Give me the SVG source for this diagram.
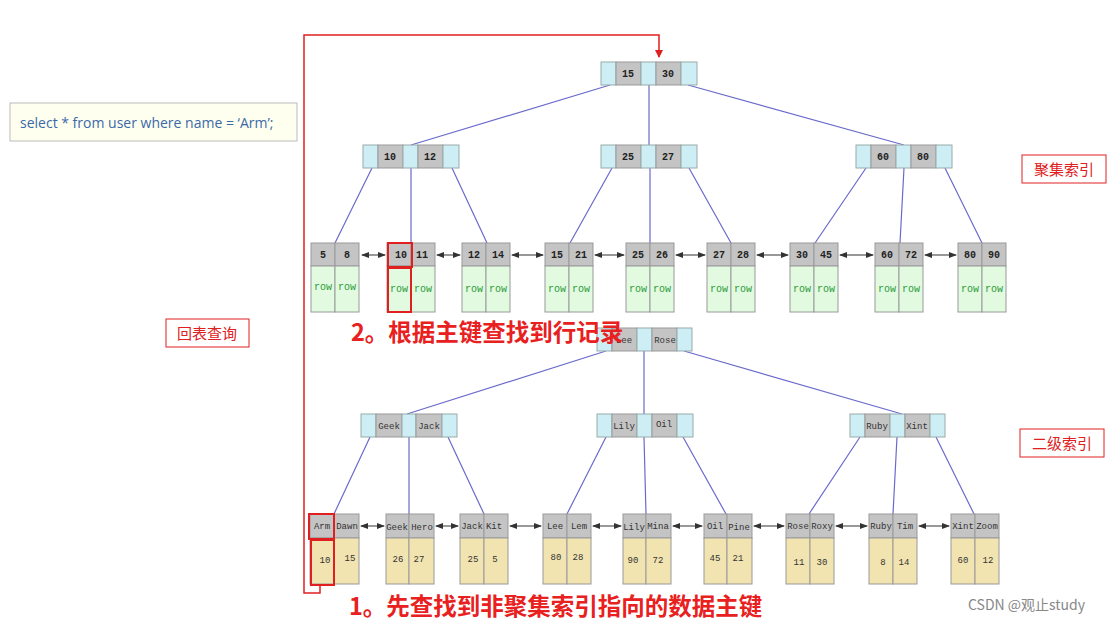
<svg xmlns="http://www.w3.org/2000/svg" width="1120" height="624" viewBox="0 0 1120 624">
<defs>
<marker id="ah" markerWidth="8" markerHeight="8" refX="7" refY="4" orient="auto-start-reverse" markerUnits="userSpaceOnUse"><path d="M0,1 L8,4 L0,7z" fill="#333"/></marker>
<marker id="rh" markerWidth="8" markerHeight="8" refX="7" refY="4" orient="auto" markerUnits="userSpaceOnUse"><path d="M0,0 L8,4 L0,8z" fill="#e02020"/></marker>
</defs>
<style>
.b{fill:#cdeef5;stroke:#9aa;stroke-width:1}
.g{fill:#c4c4c4;stroke:#999;stroke-width:1}
.r{fill:#e2fbe0;stroke:#999;stroke-width:1}
.y{fill:#f2e4b0;stroke:#999;stroke-width:1}
.k{font-family:"Liberation Mono",monospace;font-size:10px;fill:#222;text-anchor:middle;font-weight:bold}
.kr{font-family:"Liberation Mono",monospace;font-size:10px;fill:#2a9a3a;text-anchor:middle}
.kn{font-family:"Liberation Mono",monospace;font-size:9px;fill:#333;text-anchor:middle}
.e{stroke:#6a6acc;stroke-width:1.2;fill:none}
.l line{stroke:#333;stroke-width:1;marker-start:url(#ah);marker-end:url(#ah)}
.hl{fill:none;stroke:#e02020;stroke-width:2}
.lab{font-family:"Noto Sans CJK SC",sans-serif;font-size:15px;fill:#e02020;text-anchor:middle}
.big{font-family:"Noto Sans CJK SC",sans-serif;font-size:23.5px;font-weight:bold;fill:#e82020}
</style>
<rect width="1120" height="624" fill="#fff"/>
<g id="query"><rect x="10" y="103" width="287" height="38" fill="#fffff0" stroke="#bbb"/><text x="20" y="128" font-family="Open Sans,sans-serif" font-size="14" fill="#3a6aa8">select * from user where name = ‘Arm’;</text></g>
<g id="connectors">
<path class="e" d="M610,85 L411,145 M649,85 L649,145 M688,85 L904,145"/>
<path class="e" d="M372,168 L335,243 M411,168 L411,243 M452,168 L487,243 M612,168 L570,243 M650,168 L650,243 M689,168 L731,243 M866,168 L815,243 M904,168 L900,243 M945,168 L982,243"/>
<path class="e" d="M606,351 L407,414 M644,351 L644,414 M684,351 L902,414 M370,437 L334,514 M409,437 L409,514 M448,437 L484,514 M606,437 L567,514 M644,437 L646,514 M683,437 L726,514 M860,437 L809,514 M897,437 L893,514 M936,437 L974,514"/>
<g class="l">
<line x1="362" y1="255" x2="385" y2="255"/><line x1="437" y1="255" x2="460" y2="255"/><line x1="512" y1="255" x2="543" y2="255"/><line x1="595" y1="255" x2="624" y2="255"/><line x1="676" y1="255" x2="705" y2="255"/><line x1="757" y1="255" x2="788" y2="255"/><line x1="840" y1="255" x2="873" y2="255"/><line x1="925" y1="255" x2="956" y2="255"/>
<line x1="361" y1="526" x2="384" y2="526"/><line x1="436" y1="526" x2="458" y2="526"/><line x1="510" y1="526" x2="541" y2="526"/><line x1="593" y1="526" x2="621" y2="526"/><line x1="673" y1="526" x2="702" y2="526"/><line x1="754" y1="526" x2="784" y2="526"/><line x1="836" y1="526" x2="867" y2="526"/><line x1="919" y1="526" x2="949" y2="526"/>
</g>
<path d="M320,585 L320,593 L304,593 L304,35 L659,35 L659,57" stroke="#e02020" stroke-width="1.5" fill="none" marker-end="url(#rh)"/>
</g>
<g id="n-root"><rect class="b" x="601" y="62" width="15" height="23"/><rect class="g" x="616" y="62" width="25" height="23"/><rect class="b" x="641" y="62" width="15" height="23"/><rect class="g" x="656" y="62" width="25" height="23"/><rect class="b" x="681" y="62" width="16" height="23"/><text class="k" x="628" y="77">15</text><text class="k" x="668" y="77">30</text></g>
<g id="n-l"><rect class="b" x="363" y="145" width="15" height="23"/><rect class="g" x="378" y="145" width="25" height="23"/><rect class="b" x="403" y="145" width="15" height="23"/><rect class="g" x="418" y="145" width="25" height="23"/><rect class="b" x="443" y="145" width="16" height="23"/><text class="k" x="390" y="160">10</text><text class="k" x="430" y="160">12</text></g>
<g id="n-m"><rect class="b" x="601" y="145" width="15" height="23"/><rect class="g" x="616" y="145" width="25" height="23"/><rect class="b" x="641" y="145" width="15" height="23"/><rect class="g" x="656" y="145" width="25" height="23"/><rect class="b" x="681" y="145" width="16" height="23"/><text class="k" x="628" y="160">25</text><text class="k" x="668" y="160">27</text></g>
<g id="n-r"><rect class="b" x="856" y="145" width="15" height="23"/><rect class="g" x="871" y="145" width="25" height="23"/><rect class="b" x="896" y="145" width="15" height="23"/><rect class="g" x="911" y="145" width="25" height="23"/><rect class="b" x="936" y="145" width="16" height="23"/><text class="k" x="883" y="160">60</text><text class="k" x="923" y="160">80</text></g>
<g id="top-leaves">
<g id="t1"><rect class="g" x="311" y="243" width="24" height="23"/><rect class="g" x="335" y="243" width="24" height="23"/><rect class="r" x="311" y="266" width="24" height="46"/><rect class="r" x="335" y="266" width="24" height="46"/><text class="k" x="323" y="258">5</text><text class="k" x="347" y="258">8</text><text class="kr" x="323" y="290">row</text><text class="kr" x="347" y="290">row</text></g>
<g id="t2"><rect class="g" x="387" y="243" width="24" height="23"/><rect class="g" x="411" y="243" width="24" height="23"/><rect class="r" x="387" y="266" width="24" height="46"/><rect class="r" x="411" y="266" width="24" height="46"/><text class="k" x="401" y="258">10</text><text class="k" x="422" y="258">11</text><text class="kr" x="399" y="292">row</text><text class="kr" x="423" y="292">row</text></g>
<g id="t3"><rect class="g" x="462" y="243" width="24" height="23"/><rect class="g" x="486" y="243" width="24" height="23"/><rect class="r" x="462" y="266" width="24" height="46"/><rect class="r" x="486" y="266" width="24" height="46"/><text class="k" x="474" y="258">12</text><text class="k" x="498" y="258">14</text><text class="kr" x="474" y="292">row</text><text class="kr" x="498" y="292">row</text></g>
<g id="t4"><rect class="g" x="545" y="243" width="24" height="23"/><rect class="g" x="569" y="243" width="24" height="23"/><rect class="r" x="545" y="266" width="24" height="46"/><rect class="r" x="569" y="266" width="24" height="46"/><text class="k" x="557" y="258">15</text><text class="k" x="581" y="258">21</text><text class="kr" x="557" y="292">row</text><text class="kr" x="581" y="292">row</text></g>
<g id="t5"><rect class="g" x="626" y="243" width="24" height="23"/><rect class="g" x="650" y="243" width="24" height="23"/><rect class="r" x="626" y="266" width="24" height="46"/><rect class="r" x="650" y="266" width="24" height="46"/><text class="k" x="638" y="258">25</text><text class="k" x="662" y="258">26</text><text class="kr" x="638" y="292">row</text><text class="kr" x="662" y="292">row</text></g>
<g id="t6"><rect class="g" x="707" y="243" width="24" height="23"/><rect class="g" x="731" y="243" width="24" height="23"/><rect class="r" x="707" y="266" width="24" height="46"/><rect class="r" x="731" y="266" width="24" height="46"/><text class="k" x="719" y="258">27</text><text class="k" x="743" y="258">28</text><text class="kr" x="719" y="292">row</text><text class="kr" x="743" y="292">row</text></g>
<g id="t7"><rect class="g" x="790" y="243" width="24" height="23"/><rect class="g" x="814" y="243" width="24" height="23"/><rect class="r" x="790" y="266" width="24" height="46"/><rect class="r" x="814" y="266" width="24" height="46"/><text class="k" x="802" y="258">30</text><text class="k" x="826" y="258">45</text><text class="kr" x="802" y="292">row</text><text class="kr" x="826" y="292">row</text></g>
<g id="t8"><rect class="g" x="875" y="243" width="24" height="23"/><rect class="g" x="899" y="243" width="24" height="23"/><rect class="r" x="875" y="266" width="24" height="46"/><rect class="r" x="899" y="266" width="24" height="46"/><text class="k" x="887" y="258">60</text><text class="k" x="911" y="258">72</text><text class="kr" x="887" y="292">row</text><text class="kr" x="911" y="292">row</text></g>
<g id="t9"><rect class="g" x="958" y="243" width="24" height="23"/><rect class="g" x="982" y="243" width="24" height="23"/><rect class="r" x="958" y="266" width="24" height="46"/><rect class="r" x="982" y="266" width="24" height="46"/><text class="k" x="970" y="258">80</text><text class="k" x="994" y="258">90</text><text class="kr" x="970" y="292">row</text><text class="kr" x="994" y="292">row</text></g>
</g>
<g id="s-root"><rect class="b" x="597" y="328" width="15" height="23"/><rect class="g" x="612" y="328" width="25" height="23"/><rect class="b" x="637" y="328" width="15" height="23"/><rect class="g" x="652" y="328" width="25" height="23"/><rect class="b" x="677" y="328" width="15" height="23"/><text class="kn" x="624" y="343">Lee</text><text class="kn" x="665" y="343">Rose</text></g>
<g id="s-l"><rect class="b" x="361" y="414" width="15" height="23"/><rect class="g" x="376" y="414" width="26" height="23"/><rect class="b" x="402" y="414" width="14" height="23"/><rect class="g" x="416" y="414" width="26" height="23"/><rect class="b" x="442" y="414" width="15" height="23"/><text class="kn" x="389" y="429">Geek</text><text class="kn" x="429" y="429">Jack</text></g>
<g id="s-m"><rect class="b" x="597" y="414" width="15" height="23"/><rect class="g" x="612" y="414" width="25" height="23"/><rect class="b" x="637" y="414" width="15" height="23"/><rect class="g" x="652" y="414" width="25" height="23"/><rect class="b" x="677" y="414" width="16" height="23"/><text class="kn" x="624" y="429">Lily</text><text class="kn" x="664" y="427">Oil</text></g>
<g id="s-r"><rect class="b" x="850" y="414" width="15" height="23"/><rect class="g" x="865" y="414" width="25" height="23"/><rect class="b" x="890" y="414" width="15" height="23"/><rect class="g" x="905" y="414" width="25" height="23"/><rect class="b" x="930" y="414" width="15" height="23"/><text class="kn" x="877" y="429">Ruby</text><text class="kn" x="917" y="429">Xint</text></g>
<g id="sec-leaves">
<g id="s1"><rect class="g" x="310" y="514" width="24" height="24"/><rect class="g" x="334" y="514" width="25" height="24"/><rect class="y" x="310" y="538" width="24" height="46"/><rect class="y" x="334" y="538" width="25" height="46"/><text class="kn" x="322" y="529">Arm</text><text class="kn" x="347" y="529">Dawn</text><text class="kn" x="325" y="563">10</text><text class="kn" x="350" y="561">15</text></g>
<g id="s2"><rect class="g" x="386" y="514" width="23" height="24"/><rect class="g" x="409" y="514" width="25" height="24"/><rect class="y" x="386" y="538" width="23" height="46"/><rect class="y" x="409" y="538" width="25" height="46"/><text class="kn" x="397" y="530">Geek</text><text class="kn" x="422" y="530">Hero</text><text class="kn" x="398" y="562">26</text><text class="kn" x="419" y="562">27</text></g>
<g id="s3"><rect class="g" x="460" y="514" width="24" height="24"/><rect class="g" x="484" y="514" width="24" height="24"/><rect class="y" x="460" y="538" width="24" height="46"/><rect class="y" x="484" y="538" width="24" height="46"/><text class="kn" x="472" y="529">Jack</text><text class="kn" x="494" y="529">Kit</text><text class="kn" x="473" y="562">25</text><text class="kn" x="495" y="562">5</text></g>
<g id="s4"><rect class="g" x="543" y="514" width="24" height="24"/><rect class="g" x="567" y="514" width="24" height="24"/><rect class="y" x="543" y="538" width="24" height="46"/><rect class="y" x="567" y="538" width="24" height="46"/><text class="kn" x="555" y="529">Lee</text><text class="kn" x="579" y="529">Lem</text><text class="kn" x="556" y="560">80</text><text class="kn" x="578" y="560">28</text></g>
<g id="s5"><rect class="g" x="623" y="514" width="23" height="24"/><rect class="g" x="646" y="514" width="25" height="24"/><rect class="y" x="623" y="538" width="23" height="46"/><rect class="y" x="646" y="538" width="25" height="46"/><text class="kn" x="634" y="530">Lily</text><text class="kn" x="658" y="529">Mina</text><text class="kn" x="633" y="563">90</text><text class="kn" x="658" y="563">72</text></g>
<g id="s6"><rect class="g" x="704" y="514" width="23" height="24"/><rect class="g" x="727" y="514" width="25" height="24"/><rect class="y" x="704" y="538" width="23" height="46"/><rect class="y" x="727" y="538" width="25" height="46"/><text class="kn" x="715" y="529">Oil</text><text class="kn" x="739" y="530">Pine</text><text class="kn" x="715" y="561">45</text><text class="kn" x="738" y="561">21</text></g>
<g id="s7"><rect class="g" x="786" y="514" width="24" height="24"/><rect class="g" x="810" y="514" width="24" height="24"/><rect class="y" x="786" y="538" width="24" height="46"/><rect class="y" x="810" y="538" width="24" height="46"/><text class="kn" x="798" y="529">Rose</text><text class="kn" x="822" y="529">Roxy</text><text class="kn" x="799" y="565">11</text><text class="kn" x="822" y="565">30</text></g>
<g id="s8"><rect class="g" x="869" y="514" width="24" height="24"/><rect class="g" x="893" y="514" width="24" height="24"/><rect class="y" x="869" y="538" width="24" height="46"/><rect class="y" x="893" y="538" width="24" height="46"/><text class="kn" x="881" y="529">Ruby</text><text class="kn" x="905" y="529">Tim</text><text class="kn" x="883" y="565">8</text><text class="kn" x="904" y="565">14</text></g>
<g id="s9"><rect class="g" x="951" y="514" width="24" height="24"/><rect class="g" x="975" y="514" width="24" height="24"/><rect class="y" x="951" y="538" width="24" height="46"/><rect class="y" x="975" y="538" width="24" height="46"/><text class="kn" x="963" y="529">Xint</text><text class="kn" x="987" y="529">Zoom</text><text class="kn" x="963" y="563">60</text><text class="kn" x="988" y="563">12</text></g>
</g>
<g id="highlights"><rect class="hl" x="388" y="243" width="24" height="24"/><rect class="hl" x="388" y="268" width="23" height="44"/><rect class="hl" x="309" y="514" width="25" height="25"/><rect class="hl" x="311" y="540" width="23" height="45"/></g>
<g id="labels">
<rect x="1022" y="155" width="84" height="28" fill="#fff" stroke="#e02020"/><text class="lab" x="1064" y="175">聚集索引</text>
<rect x="1020" y="429" width="84" height="28" fill="#fff" stroke="#e02020"/><text class="lab" x="1062" y="449">二级索引</text>
<rect x="166" y="319" width="83" height="28" fill="#fff" stroke="#e02020"/><text class="lab" x="207" y="339">回表查询</text>
<text class="big" x="351" y="341">2。根据主键查找到行记录</text>
<text class="big" x="349" y="615">1。先查找到非聚集索引指向的数据主键</text>
<text x="968" y="610" font-family="Noto Sans CJK SC,sans-serif" font-size="14" fill="#888">CSDN @观止study</text>
</g>
</svg>
